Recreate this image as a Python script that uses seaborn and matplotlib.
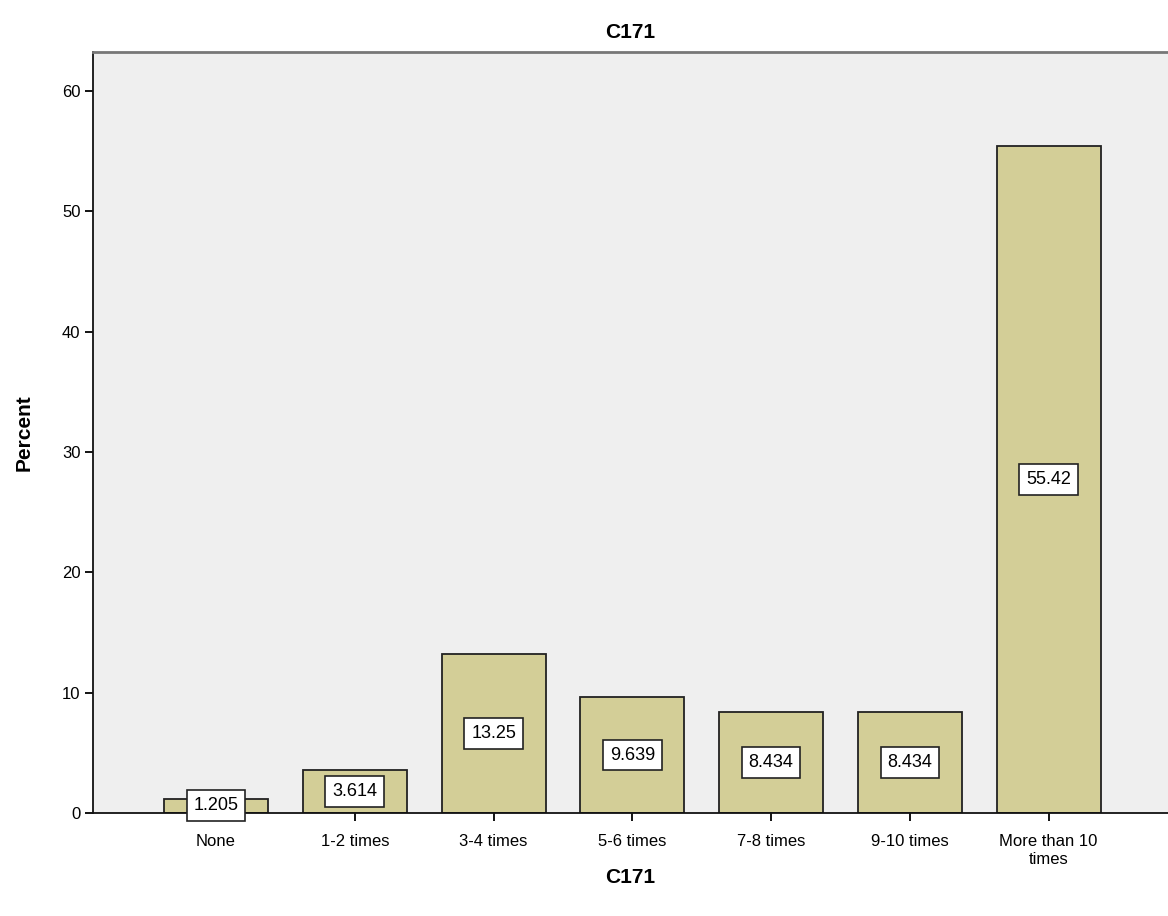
import matplotlib
matplotlib.use("Agg")
import matplotlib.pyplot as plt
import seaborn as sns
import pandas as pd

categories = ["None", "1-2 times", "3-4 times", "5-6 times", "7-8 times", "9-10 times", "More than 10\ntimes"]
percent = [1.205, 3.614, 13.25, 9.639, 8.434, 8.434, 55.42]
value_labels = ["1.205", "3.614", "13.25", "9.639", "8.434", "8.434", "55.42"]
y_ticks = [0, 10, 20, 30, 40, 50, 60]

sns.set_style("white")
plt.rcParams['font.family'] = ['Liberation Sans', 'DejaVu Sans']
plt.rcParams['text.color'] = 'black'
plt.rcParams['axes.labelcolor'] = 'black'
plt.rcParams['xtick.color'] = 'black'
plt.rcParams['ytick.color'] = 'black'

df = pd.DataFrame({"cat": categories, "pct": percent})

fig = plt.figure(figsize=(11.68, 9.16), dpi=100)
ax = fig.add_axes([0.0796, 0.1124, 0.9204, 0.8308])
ax.set_facecolor("#EFEFEF")

sns.barplot(data=df, x="cat", y="pct", order=categories, color="#D3CE97",
            saturation=1, width=0.75, edgecolor="#222222", linewidth=1.3, ax=ax)

for i, (v, lab) in enumerate(zip(percent, value_labels)):
    ax.text(i, v / 2, lab, ha="center", va="center", fontsize=13, color="black",
            bbox=dict(boxstyle="square,pad=0.38", facecolor="white", edgecolor="#222222", linewidth=1.2),
            zorder=5)

ax.set_xlim(-0.887, 6.86)
ax.set_ylim(0, 63.25)
ax.set_yticks(y_ticks)
ax.set_yticklabels([str(t) for t in y_ticks], fontsize=12)
ax.tick_params(axis="x", labelsize=12, length=6, width=1.3, direction="out", bottom=True, pad=9)
ax.tick_params(axis="y", length=6, width=1.3, direction="out", left=True, pad=3)
for lbl in ax.get_xticklabels():
    lbl.set_linespacing(1.25)

for s in ["left", "bottom"]:
    ax.spines[s].set_color("#111111")
    ax.spines[s].set_linewidth(1.3)
ax.spines["top"].set_color("#777777")
ax.spines["top"].set_linewidth(2)
ax.spines["right"].set_visible(False)

ax.set_title("C171", fontsize=15, fontweight="bold", pad=10)
ax.set_xlabel("C171", fontsize=15, fontweight="bold", labelpad=1)
ax.set_ylabel("Percent", fontsize=15, fontweight="bold", labelpad=20)

fig.savefig("out.png", dpi=100)
